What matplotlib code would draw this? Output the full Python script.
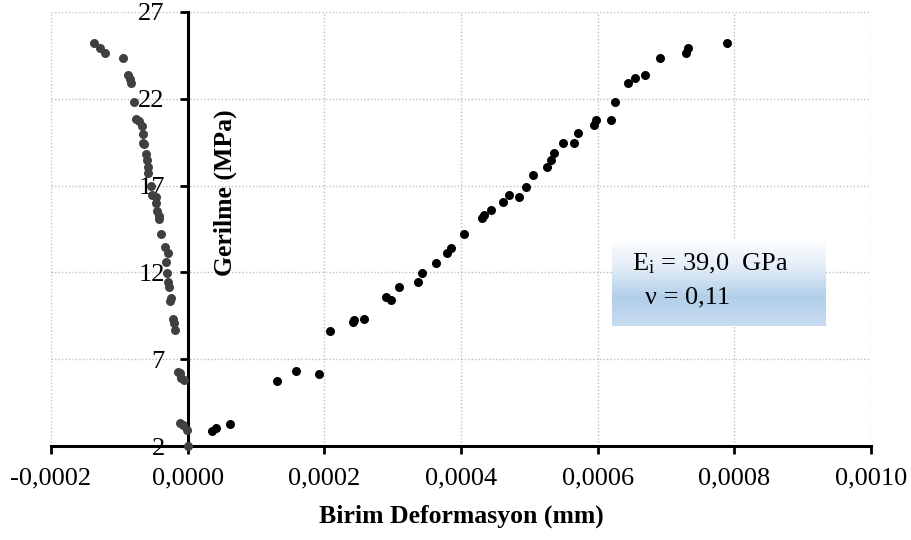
import matplotlib
matplotlib.use("Agg")
import matplotlib.pyplot as plt
import numpy as np
from matplotlib.ticker import FixedLocator, FixedFormatter
from matplotlib.colors import LinearSegmentedColormap

plt.rcParams['font.family'] = ['Liberation Serif', 'DejaVu Serif']
plt.rcParams['mathtext.fontset'] = 'custom'
plt.rcParams['mathtext.rm'] = 'Liberation Serif'
plt.rcParams['mathtext.it'] = 'Liberation Serif:italic'

# Axial strain (black series)
axial_strain = [3.5e-5, 4.13e-5, 6.18e-5, 1.31e-4, 1.58e-4, 1.92e-4, 2.09e-4, 2.42e-4,
                2.44e-4, 2.58e-4, 2.91e-4, 2.98e-4, 3.09e-4, 3.37e-4, 3.43e-4, 3.63e-4,
                3.80e-4, 3.86e-4, 4.04e-4, 4.31e-4, 4.34e-4, 4.44e-4, 4.61e-4, 4.71e-4,
                4.85e-4, 4.95e-4, 5.05e-4, 5.26e-4, 5.32e-4, 5.36e-4, 5.49e-4, 5.65e-4,
                5.71e-4, 5.95e-4, 5.97e-4, 6.20e-4, 6.26e-4, 6.45e-4, 6.55e-4, 6.70e-4,
                6.92e-4, 7.30e-4, 7.32e-4, 7.89e-4]
axial_stress = [2.88, 3.05, 3.25, 5.76, 6.30, 6.16, 8.64, 9.13,
                9.26, 9.32, 10.60, 10.41, 11.18, 11.47, 11.97, 12.56,
                13.10, 13.41, 14.19, 15.15, 15.31, 15.59, 16.07, 16.44,
                16.36, 16.94, 17.61, 18.05, 18.47, 18.86, 19.47, 19.43,
                20.01, 20.49, 20.78, 20.78, 21.83, 22.93, 23.22, 23.35,
                24.33, 24.62, 24.91, 25.20]

# Lateral strain (dark gray series)
lateral_strain = [0.0, -1.5e-6, -6.3e-6, -1.1e-5, -4.8e-6, -9.8e-6, -1.12e-5, -1.36e-5,
                  -1.85e-5, -2.0e-5, -2.09e-5, -2.58e-5, -2.43e-5, -2.67e-5, -2.82e-5,
                  -3.07e-5, -3.21e-5, -2.92e-5, -3.31e-5, -3.9e-5, -4.13e-5, -4.19e-5,
                  -4.42e-5, -4.63e-5, -4.67e-5, -5.26e-5, -5.4e-5, -5.8e-5, -5.84e-5,
                  -5.88e-5, -6.08e-5, -6.37e-5, -6.47e-5, -6.6e-5, -6.72e-5, -7.1e-5,
                  -7.59e-5, -7.84e-5, -8.27e-5, -8.5e-5, -8.8e-5, -9.49e-5, -1.21e-4,
                  -1.28e-4, -1.377e-4]
lateral_stress = [2.0, 2.92, 3.21, 3.31, 5.80, 5.90, 6.19, 6.28,
                  8.68, 9.07, 9.32, 10.37, 10.51, 11.18, 11.47,
                  11.98, 12.58, 13.14, 13.44, 14.21, 15.09, 15.25,
                  15.56, 16.02, 16.36, 16.46, 16.98, 17.71, 18.09,
                  18.47, 18.82, 19.38, 19.47, 19.97, 20.43, 20.74,
                  20.82, 21.83, 22.93, 23.14, 23.37, 24.33, 24.62,
                  24.94, 25.23]

x_ticks = [-0.0002, 0.0, 0.0002, 0.0004, 0.0006, 0.0008, 0.0010]
x_tick_labels = ['-0,0002', '0,0000', '0,0002', '0,0004', '0,0006', '0,0008', '0,0010']
y_ticks = [2, 7, 12, 17, 22, 27]
y_tick_labels = ['2', '7', '12', '17', '22', '27']

fig = plt.figure(figsize=(9.11, 5.40), dpi=100)
ax = fig.add_axes([0.056, 0.174, 0.900, 0.804])

ax.scatter(lateral_strain, lateral_stress, s=42, color='#404040', zorder=5, clip_on=False,
           linewidths=0)
ax.scatter(axial_strain, axial_stress, s=42, color='black', zorder=5, clip_on=False,
           linewidths=0)

ax.set_xlim(-0.0002, 0.0010)
ax.set_ylim(2, 27)
ax.xaxis.set_major_locator(FixedLocator(x_ticks))
ax.xaxis.set_major_formatter(FixedFormatter(x_tick_labels))
ax.yaxis.set_major_locator(FixedLocator(y_ticks))
ax.yaxis.set_major_formatter(FixedFormatter(y_tick_labels))

ax.spines['left'].set_position(('data', 0))
ax.spines['top'].set_visible(False)
ax.spines['right'].set_visible(False)
for s in ['left', 'bottom']:
    ax.spines[s].set_linewidth(2.2)
    ax.spines[s].set_zorder(3)

ax.tick_params(axis='both', direction='out', length=5.5, width=2.0, labelsize=19, color='black')
ax.tick_params(axis='x', pad=10)
ax.tick_params(axis='y', pad=11)

ax.grid(True, linestyle=(0, (1, 1.5)), color='#bfbfbf', linewidth=1.0, zorder=0)
ax.set_axisbelow(True)

ax.set_xlabel('Birim Deformasyon (mm)', fontsize=18.5, fontweight='bold', labelpad=11)
ax.set_ylabel('Gerilme (MPa)', fontsize=18.5, fontweight='bold', va='center', ha='center')
ax.yaxis.set_label_coords(0.213, 0.583)

# gradient text box
bax = fig.add_axes([0.672, 0.396, 0.234, 0.16])
grad = np.linspace(0, 1, 256).reshape(-1, 1)
cmap = LinearSegmentedColormap.from_list('g', ['#ffffff', '#e2ecf7', '#b2cfea', '#c7dcf0'])
bax.imshow(grad, aspect='auto', cmap=cmap, extent=[0, 1, 0, 1], origin='upper')
bax.set_xlim(0, 1)
bax.set_ylim(0, 1)
bax.axis('off')
bax.text(0.094, 0.64, r'E$_\mathregular{i}$ = 39,0  GPa', fontsize=19, ha='left', va='baseline')
bax.text(0.155, 0.267, 'ν = 0,11', fontsize=19, ha='left', va='baseline')

fig.savefig('out.png', dpi=100)
